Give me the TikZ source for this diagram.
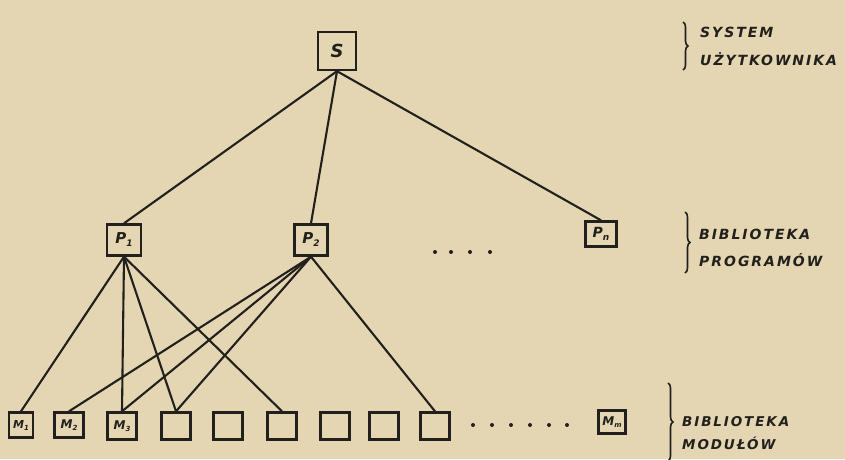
\documentclass[tikz,border=0pt]{standalone}
\usepackage{fontspec}
\setmainfont{DejaVu Sans}
\newfontfamily\capf[LetterSpace=14]{DejaVu Sans}
\usetikzlibrary{decorations.pathreplacing}
\definecolor{paper}{RGB}{228,214,178}
\definecolor{ink}{RGB}{34,32,28}
\tikzset{
  box/.style={draw=ink, line width=2.4pt, inner sep=0pt, text=ink, font=\bfseries\itshape},
  modbox/.style={box, minimum width=29pt, minimum height=27pt},
  link/.style={draw=ink, line width=2.1pt},
  grp/.style={draw=ink, line width=1.6pt, decorate, decoration={brace, amplitude=5pt}},
  captext/.style={anchor=west, inner sep=0pt, text=ink, font=\capf\bfseries\itshape\fontsize{14}{14}\selectfont},
  dotmark/.style={fill=ink, circle, inner sep=0pt, minimum size=4pt}
}
\begin{document}
\begin{tikzpicture}[x=1pt,y=-1pt]
\fill[paper] (0,0) rectangle (845,459);
\useasboundingbox (0,0) rectangle (845,459);

% top
\node[box, minimum width=38pt, minimum height=38pt, font=\bfseries\itshape\fontsize{18}{18}\selectfont] (S) at (337,51) {S};

% programs
\node[box, minimum width=34pt, minimum height=31pt, font=\bfseries\itshape\fontsize{15}{15}\selectfont] (P1) at (124,240) {P\raisebox{-3pt}{\fontsize{9}{9}\selectfont 1}};
\node[box, minimum width=33pt, minimum height=31pt, font=\bfseries\itshape\fontsize{15}{15}\selectfont] (P2) at (311,240) {P\raisebox{-3pt}{\fontsize{9}{9}\selectfont 2}};
\node[box, minimum width=31pt, minimum height=25pt, font=\bfseries\itshape\fontsize{14}{14}\selectfont] (Pn) at (601,234) {P\raisebox{-3pt}{\fontsize{9}{9}\selectfont n}};

% modules
\node[box, minimum width=24pt, minimum height=25pt, font=\bfseries\itshape\fontsize{11}{11}\selectfont] (M1) at (21,425) {M\raisebox{-2pt}{\fontsize{7}{7}\selectfont 1}};
\node[box, minimum width=29pt, minimum height=25pt, font=\bfseries\itshape\fontsize{12}{12}\selectfont] (M2) at (69,425) {M\raisebox{-2pt}{\fontsize{7}{7}\selectfont 2}};
\node[box, minimum width=29pt, minimum height=27pt, font=\bfseries\itshape\fontsize{12}{12}\selectfont] (M3) at (122,426) {M\raisebox{-2pt}{\fontsize{7}{7}\selectfont 3}};
\node[modbox] (B4) at (176,426) {};
\node[modbox] (B5) at (228,426) {};
\node[modbox] (B6) at (282,426) {};
\node[modbox] (B7) at (335,426) {};
\node[modbox] (B8) at (384,426) {};
\node[modbox] (B9) at (435,426) {};
\node[box, minimum width=27pt, minimum height=23pt, font=\bfseries\itshape\fontsize{12}{12}\selectfont] (Mm) at (612,422) {M\raisebox{-2pt}{\fontsize{7}{7}\selectfont m}};

% dots
\foreach \x [count=\i] in {435,451,470,490} \node[dotmark] (pd\i) at (\x,252) {};
\foreach \x [count=\i] in {473,492,511,530,549,567} \node[dotmark] (md\i) at (\x,425) {};

% connectors
\draw[link] (S.south) -- (P1.north);
\draw[link] (S.south) -- (P2.north);
\draw[link] (S.south) -- (Pn.north);

\draw[link] (P1.south) -- (M1.north);
\draw[link] (P1.south) -- (M3.north);
\draw[link] (P1.south) -- (B4.north);
\draw[link] (P1.south) -- (B6.north);

\draw[link] (P2.south) -- (M2.north);
\draw[link] (P2.south) -- (M3.north);
\draw[link] (P2.south) -- (B4.north);
\draw[link] (P2.south) -- (B9.north);

% braces and captions
\coordinate (b1a) at (683,22); \coordinate (b1b) at (683,70);
\draw[grp] (b1a) -- (b1b);
\node[captext] (c1) at (700,32) {SYSTEM};
\node[captext] (c2) at (700,59) {UŻYTKOWNIKA};

\coordinate (b2a) at (685,212); \coordinate (b2b) at (685,273);
\draw[grp] (b2a) -- (b2b);
\node[captext] (c3) at (699,234) {BIBLIOTEKA};
\node[captext] (c4) at (699,260) {PROGRAMÓW};

\coordinate (b3a) at (668,383); \coordinate (b3b) at (668,461);
\draw[grp] (b3a) -- (b3b);
\node[captext, font=\capf\bfseries\itshape\fontsize{13.5}{13.5}\selectfont] (c5) at (682,422) {BIBLIOTEKA};
\node[captext, font=\capf\bfseries\itshape\fontsize{13.5}{13.5}\selectfont] (c6) at (682,443) {MODUŁÓW};
\end{tikzpicture}
\end{document}
